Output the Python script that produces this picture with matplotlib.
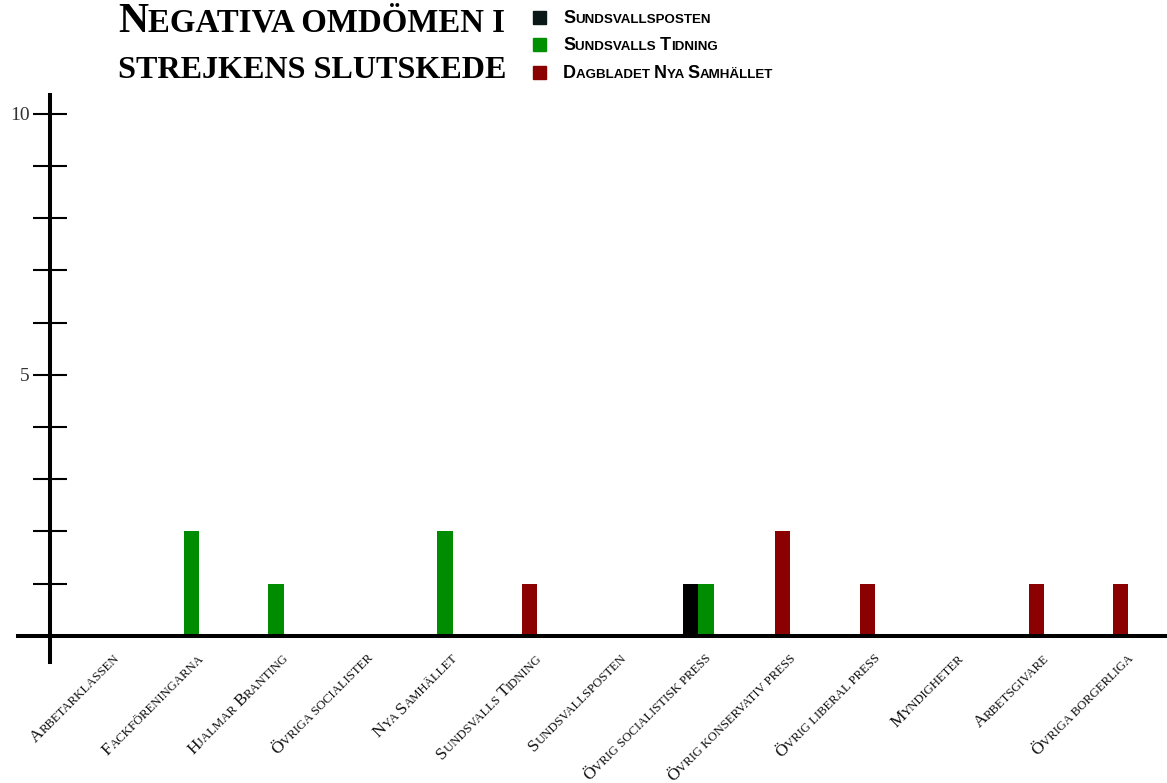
import numpy as np
import matplotlib
matplotlib.use("Agg")
import matplotlib.pyplot as plt
from matplotlib.patches import Rectangle
from matplotlib.font_manager import FontProperties
from matplotlib.transforms import IdentityTransform

# Data
categories = ["Arbetarklassen", "Fackföreningarna", "Hjalmar Branting",
              "Övriga socialister", "Nya Samhället", "Sundsvalls Tidning",
              "Sundsvallsposten", "Övrig socialistisk press",
              "Övrig konservativ press", "Övrig liberal press",
              "Myndigheter", "Arbetsgivare", "Övriga borgerliga"]
sundsvallsposten = [0, 0, 0, 0, 0, 0, 0, 1, 0, 0, 0, 0, 0]
sundsvalls_tidning = [0, 2, 1, 0, 2, 0, 0, 1, 0, 0, 0, 0, 0]
nya_samhallet = [0, 0, 0, 0, 0, 1, 0, 0, 2, 1, 0, 1, 1]
series_names = ["Sundsvallsposten", "Sundsvalls Tidning", "Dagbladet Nya Samhället"]
title_lines = ["Negativa omdömen i", "strejkens slutskede"]

bar_colors = ["#000000", "#008c00", "#8b0000"]
legend_colors = ["#0b1818", "#009000", "#8b0000"]

plt.rcParams["font.family"] = "serif"
plt.rcParams["font.serif"] = ["Liberation Serif", "DejaVu Serif"]

W, H = 1167, 783
fig = plt.figure(figsize=(W / 100, H / 100), dpi=100)
ax = fig.add_axes([50 / W, 1 - 662 / H, (W - 50) / W, (662 - 95) / H])
ax.set_xlim(-0.675, 12.545)
ax.set_ylim(-0.5, 10.36)

values = np.array([sundsvallsposten, sundsvalls_tidning, nya_samhallet])
x = np.arange(len(categories))
width = 0.178
# bars that are present in a category sit side by side around its tick
present = values > 0
count = present.sum(axis=0)
rank = np.cumsum(present, axis=0) - 1
offsets = (rank - (count - 1) / 2) * width
for k in range(len(series_names)):
    ax.bar(x + offsets[k], values[k], width, color=bar_colors[k], zorder=2)

for side in ["top", "right", "bottom"]:
    ax.spines[side].set_visible(False)
ax.spines["left"].set_linewidth(2.9)
ax.axhline(0, xmin=-32 / (W - 50), xmax=1, color="black", lw=2.9, clip_on=False, zorder=3)

ax.set_xticks([])
ticks = list(range(1, 11))
ax.set_yticks(ticks)
ax.set_yticklabels([str(t) if t % 5 == 0 else "" for t in ticks])
ax.tick_params(axis="y", direction="inout", length=25, width=1.5, pad=2,
               labelsize=14, labelcolor="#333333")

renderer = fig.canvas.get_renderer()


def advance(text, prop):
    w1 = renderer.get_text_width_height_descent(text + "|", prop, ismath=False)[0]
    w0 = renderer.get_text_width_height_descent("|", prop, ismath=False)[0]
    return w1 - w0


def runs_of(s):
    runs = []
    for ch in s:
        big = ch.isupper()
        if ch == " " and runs:
            big = runs[-1][1]
        if runs and runs[-1][1] == big:
            runs[-1][0] += ch.upper()
        else:
            runs.append([ch.upper(), big])
    return runs


def small_caps(s, x0, y0, big, small, family, weight="normal", angle=0,
               align="left", color="black"):
    runs = runs_of(s)
    props = {True: FontProperties(family=family, size=big, weight=weight),
             False: FontProperties(family=family, size=small, weight=weight)}
    widths = [advance(t, props[b]) for t, b in runs]
    total = sum(widths)
    ux, uy = np.cos(np.radians(angle)), np.sin(np.radians(angle))
    if align == "right":
        x0, y0 = x0 - total * ux, y0 - total * uy
    pos = 0
    for (t, b), w in zip(runs, widths):
        fig.text(x0 + pos * ux, y0 + pos * uy, t, fontproperties=props[b],
                 rotation=angle, rotation_mode="anchor", ha="left", va="baseline",
                 transform=IdentityTransform(), color=color)
        pos += w
    return total


# category labels, rotated, ending just right of each tick
for i, name in enumerate(categories):
    tx, ty = ax.transData.transform((i, 0))
    small_caps(name, tx + 13, ty - 23, 12.5, 9.2, "Liberation Serif", angle=45,
               align="right", color="#111111")

# title
small_caps(title_lines[0], 118, H - 32, 30, 23.7, "Liberation Serif", weight="bold")
small_caps(title_lines[1], 118, H - 78, 23.1, 23.1, "Liberation Serif", weight="bold")

# legend
for k, name in enumerate(series_names):
    cy = H - (17 + 27.5 * k)
    fig.add_artist(Rectangle((533, cy - 6.5), 13, 13, color=legend_colors[k],
                             transform=IdentityTransform()))
    small_caps(name, 563, cy - 6, 13, 9.6, "Liberation Sans", weight="bold")

fig.savefig("out.png", dpi=100)
